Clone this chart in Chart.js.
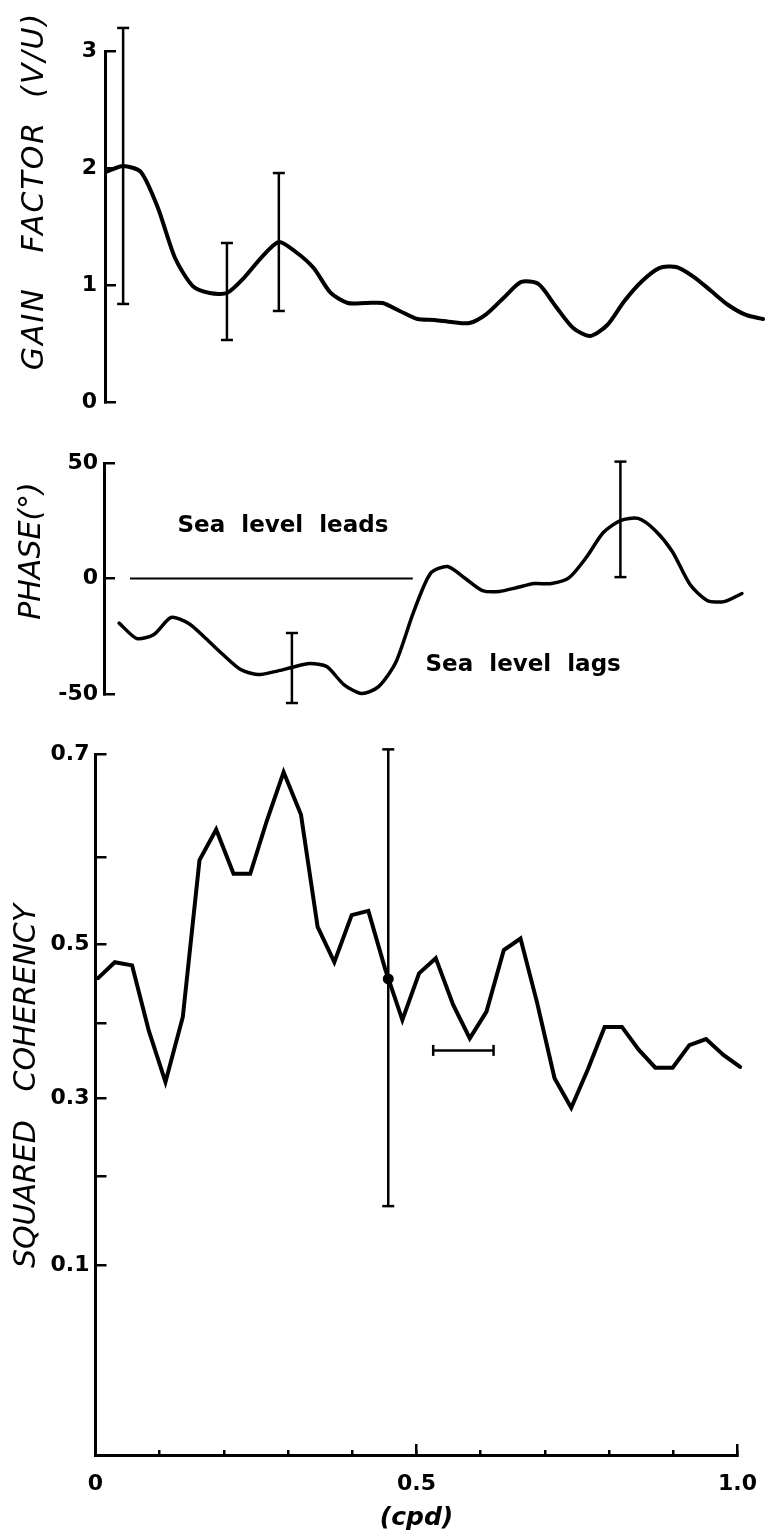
<!DOCTYPE html>
<html>
<head>
<meta charset="utf-8">
<script src="https://cdn.jsdelivr.net/npm/chart.js@4.4.1/dist/chart.umd.min.js"></script>
<style>
html,body{margin:0;padding:0;background:#fff;}
#wrap{position:relative;width:778px;height:1540px;overflow:hidden;}
#wrap canvas{position:absolute;left:0;top:0;}
</style>
</head>
<body>
<div id="wrap">
<canvas id="gainChart" width="778" height="1540"></canvas>
<canvas id="phaseChart" width="778" height="1540"></canvas>
<canvas id="cohChart" width="778" height="1540"></canvas>
</div>
<script>
// ---------------- data ----------------
const FREQ_CPD = [0.004,0.030,0.057,0.083,0.109,0.136,0.162,0.188,0.215,0.241,0.267,0.293,0.320,0.346,0.372,0.399,0.425,0.451,0.478,0.504,0.530,0.557,0.583,0.609,0.636,0.662,0.688,0.715,0.741,0.767,0.793,0.820,0.846,0.872,0.899,0.925,0.951,0.978,1.004];

const GAIN = [1.966,2.017,1.966,1.658,1.231,0.991,0.932,0.932,1.068,1.239,1.368,1.282,1.145,0.932,0.846,0.846,0.846,0.778,0.709,0.701,0.684,0.675,0.752,0.889,1.026,1.009,0.821,0.632,0.564,0.658,0.863,1.034,1.145,1.154,1.068,0.949,0.829,0.744,0.709];

const PHASE_DEG = [null,-19.3,-26.0,-24.2,-16.9,-19.5,-26.0,-32.9,-39.4,-41.6,-40.3,-38.5,-36.8,-38.1,-45.9,-49.8,-46.8,-36.4,-14.7,2.2,5.2,0.0,-5.2,-5.6,-3.9,-2.2,-2.2,0.4,9.1,19.9,25.1,26.0,20.8,11.7,-2.6,-9.5,-10.0,-6.5,null];

const COHERENCY = [0.458,0.478,0.474,0.390,0.322,0.408,0.597,0.629,0.582,0.582,0.638,0.684,0.644,0.521,0.478,0.535,0.540,0.470,0.404,0.464,0.483,0.424,0.380,0.415,0.493,0.507,0.426,0.327,0.288,0.339,0.395,0.395,0.365,0.341,0.341,0.371,0.379,0.358,0.342];

// error bars
const GAIN_ERR_FREQ = [0.030, 0.188, 0.267];
const GAIN_ERR_LOW  = [0.838, 0.530, 0.778];
const GAIN_ERR_HIGH = [3.197, 1.359, 1.957];

const PHASE_ERR_FREQ = [0.293, 0.793];
const PHASE_ERR_LOW  = [-53.9, 0.6];
const PHASE_ERR_HIGH = [-23.6, 50.6];

const COH_ERR_FREQ = [0.456];
const COH_ERR_LOW  = [0.164];
const COH_ERR_HIGH = [0.704];
const COH_ERR_POINT = [0.457];

// bandwidth bar
const BANDWIDTH_FREQ = [0.526, 0.620];
const BANDWIDTH_LEVEL = [0.364, 0.364];

// phase zero reference line
const ZERO_REF_FREQ = [0.0466, 0.477];
const ZERO_REF_PHASE = [0, 0];

// ticks and labels
const FREQ_TICKS = [0,0.1,0.2,0.3,0.4,0.5,0.6,0.7,0.8,0.9,1.0];
const FREQ_MAJOR_TICKS = [0.5, 1.0];
const FREQ_LABEL_VALUES = [0, 0.5, 1.0];
const FREQ_LABEL_TEXT = ['0', '0.5', '1.0'];
const GAIN_TICKS = [0,1,2,3];
const PHASE_TICKS = [-50,0,50];
const COH_TICKS = [0,0.1,0.2,0.3,0.4,0.5,0.6,0.7];
const COH_LABEL_VALUES = [0.1,0.3,0.5,0.7];

// texts
const GAIN_TITLE = 'GAIN   FACTOR  (V/U)';
const PHASE_TITLE = 'PHASE(°)';
const COH_TITLE = 'SQUARED   COHERENCY';
const X_TITLE = '(cpd)';
const LEADS_TEXT = 'Sea  level  leads';
const LAGS_TEXT = 'Sea  level  lags';
const LEADS_AT = [0.2794, 22.5];
const LAGS_AT = [0.645, -37.4];

// ---------------- chart setup ----------------
const BLACK = '#000';
const FAMILY = "'DejaVu Sans', 'Liberation Sans', sans-serif";
Chart.defaults.font.family = FAMILY;
Chart.defaults.color = BLACK;
Chart.defaults.plugins.legend.display = false;
Chart.defaults.plugins.tooltip.enabled = false;

const near = (a, b) => Math.abs(a - b) < 1e-6;

// Coherency axis: spacing proportional to atanh(sqrt(c))
const zOf = c => Math.atanh(Math.sqrt(Math.max(c, 0)));
class CoherencyScale extends Chart.LinearScale {
  getPixelForValue(value) {
    if (value === null || value === undefined || isNaN(value)) return NaN;
    const z0 = zOf(this.min), z1 = zOf(this.max);
    return this.getPixelForDecimal((zOf(value) - z0) / (z1 - z0));
  }
  getValueForPixel(pixel) {
    const z0 = zOf(this.min), z1 = zOf(this.max);
    const t = Math.tanh(z0 + this.getDecimalForPixel(pixel) * (z1 - z0));
    return t * t;
  }
}
CoherencyScale.id = 'coherency';
CoherencyScale.defaults = Chart.LinearScale.defaults;
Chart.register(CoherencyScale);

// let marks (error-bar caps) that stick out of the plot box still be drawn
const wideArea = {
  id: 'wideArea',
  beforeDatasetsDraw(chart) {
    chart.$savedArea = chart.chartArea;
    chart.chartArea = { left: 0, top: 0, right: chart.width, bottom: chart.height, width: chart.width, height: chart.height };
  },
  afterDatasetsDraw(chart) {
    if (chart.$savedArea) chart.chartArea = chart.$savedArea;
  }
};

// text plugin (axis titles and annotations)
const panelText = {
  id: 'panelText',
  afterDraw(chart, args, opts) {
    const ctx = chart.ctx;
    (opts.items || []).forEach(it => {
      ctx.save();
      ctx.font = it.font;
      if (it.spacing) { try { ctx.letterSpacing = it.spacing; } catch (e) {} }
      ctx.fillStyle = BLACK;
      ctx.textAlign = 'center';
      ctx.textBaseline = 'middle';
      let x, y;
      if (it.data) {
        x = chart.scales.x.getPixelForValue(it.data[0]);
        y = chart.scales.y.getPixelForValue(it.data[1]);
      } else { x = it.px[0]; y = it.px[1]; }
      ctx.translate(x, y);
      if (it.rotate) ctx.rotate(it.rotate * Math.PI / 180);
      ctx.fillText(it.text, 0, 0);
      ctx.restore();
    });
  }
};

const TICK_FONT = {family: FAMILY, size: 22, weight: 'bold'};
const TITLE_FONT = "italic 30px 'DejaVu Sans'";
const NOTE_FONT = "bold 23px 'DejaVu Sans'";

function pts(xs, ys) {
  const out = [];
  xs.forEach((x, i) => { if (ys[i] !== null && ys[i] !== undefined) out.push({x: x, y: ys[i]}); });
  return out;
}
function curve(xs, ys, width, tension) {
  return { data: pts(xs, ys), showLine: true, borderColor: BLACK, borderWidth: width,
    pointRadius: 0, tension: tension, borderJoinStyle: 'round', borderCapStyle: 'round', clip: false };
}
function errBar(f, lo, hi) {
  return { data: [{x: f, y: lo}, {x: f, y: hi}], showLine: true, borderColor: BLACK, borderWidth: 2.5,
    pointStyle: 'line', pointRadius: 6, pointBorderColor: BLACK, pointBorderWidth: 2.5, clip: false };
}
function yAxis(o) {
  return {
    type: o.type || 'linear', position: 'left', min: o.min, max: o.max,
    afterBuildTicks: s => { s.ticks = o.ticks.map(v => ({value: v})); },
    ticks: { autoSkip: false, padding: o.pad, font: TICK_FONT, color: BLACK, callback: o.label },
    grid: { drawOnChartArea: false, drawTicks: true, tickLength: -11, tickWidth: 2.5, tickColor: BLACK, lineWidth: 2.5, color: BLACK },
    border: { display: true, width: 3, color: BLACK },
    afterFit: s => { s.width = o.width; }
  };
}
const common = { responsive: false, animation: false, devicePixelRatio: 1, events: [] };

// ---- Top: gain factor ----
new Chart(document.getElementById('gainChart'), {
  type: 'scatter',
  data: { datasets: [
    curve(FREQ_CPD, GAIN, 4, 0.25),
    ...GAIN_ERR_FREQ.map((f, i) => errBar(f, GAIN_ERR_LOW[i], GAIN_ERR_HIGH[i]))
  ]},
  options: Object.assign({}, common, {
    layout: { padding: { left: 0, top: 51, right: 778 - 760.4, bottom: 1540 - 402 } },
    scales: {
      x: { type: 'linear', display: false, min: 0.0024, max: 1.0 },
      y: yAxis({ min: 0, max: 3, ticks: GAIN_TICKS, width: 105, pad: 19, label: v => String(v) })
    },
    plugins: { panelText: { items: [ { text: GAIN_TITLE, px: [35, 191], rotate: -90, font: TITLE_FONT, spacing: '2px' } ] } }
  }),
  plugins: [wideArea, panelText]
});

// ---- Middle: phase ----
new Chart(document.getElementById('phaseChart'), {
  type: 'scatter',
  data: { datasets: [
    curve(FREQ_CPD, PHASE_DEG, 3.5, 0.25),
    Object.assign(curve(ZERO_REF_FREQ, ZERO_REF_PHASE, 2, 0), { borderCapStyle: 'butt' }),
    ...PHASE_ERR_FREQ.map((f, i) => errBar(f, PHASE_ERR_LOW[i], PHASE_ERR_HIGH[i]))
  ]},
  options: Object.assign({}, common, {
    layout: { padding: { left: 0, top: 463, right: 778 - 756.4, bottom: 1540 - 694 } },
    scales: {
      x: { type: 'linear', display: false, min: 0.007, max: 1.0 },
      y: yAxis({ min: -50, max: 50, ticks: PHASE_TICKS, width: 104, pad: 17, label: v => String(v) })
    },
    plugins: { panelText: { items: [
      { text: PHASE_TITLE, px: [32, 551], rotate: -90, font: TITLE_FONT },
      { text: LEADS_TEXT, data: LEADS_AT, font: NOTE_FONT },
      { text: LAGS_TEXT, data: LAGS_AT, font: NOTE_FONT }
    ] } }
  }),
  plugins: [wideArea, panelText]
});

// ---- Bottom: squared coherency ----
new Chart(document.getElementById('cohChart'), {
  type: 'scatter',
  data: { datasets: [
    Object.assign(curve(FREQ_CPD, COHERENCY, 4, 0), { borderJoinStyle: 'miter' }),
    errBar(COH_ERR_FREQ[0], COH_ERR_LOW[0], COH_ERR_HIGH[0]),
    { data: pts(COH_ERR_FREQ, COH_ERR_POINT), showLine: false, pointStyle: 'circle', pointRadius: 5.5,
      pointBackgroundColor: BLACK, pointBorderColor: BLACK, pointBorderWidth: 0, clip: false },
    { data: pts(BANDWIDTH_FREQ, BANDWIDTH_LEVEL), showLine: true, borderColor: BLACK, borderWidth: 2.5,
      pointStyle: 'line', pointRotation: 90, pointRadius: 5.5, pointBorderColor: BLACK, pointBorderWidth: 2.5, clip: false }
  ]},
  options: Object.assign({}, common, {
    layout: { padding: { left: 0, top: 754, right: 778 - 752.5, bottom: 0 } },
    scales: {
      x: {
        type: 'linear', position: 'bottom', min: 0, max: 1.0, weight: 1,
        afterBuildTicks: s => { s.ticks = FREQ_TICKS.map(v => ({value: v})); },
        ticks: { autoSkip: false, maxRotation: 0, padding: 21, font: TICK_FONT, color: BLACK,
          callback: v => { const i = FREQ_LABEL_VALUES.findIndex(t => near(t, v)); return i < 0 ? '' : FREQ_LABEL_TEXT[i]; } },
        grid: { drawOnChartArea: false, drawTicks: true, tickLength: -5, tickWidth: 2.5, tickColor: BLACK, lineWidth: 2.5, color: BLACK },
        border: { display: true, width: 3, color: BLACK },
        title: { display: true, text: X_TITLE, color: BLACK, font: { family: FAMILY, size: 25, style: 'italic', weight: 'bold' }, padding: { top: 0, bottom: 7 } },
        afterFit: s => { s.height = 85; }
      },
      xMajor: {
        type: 'linear', position: 'bottom', min: 0, max: 1.0, weight: 0,
        afterBuildTicks: s => { s.ticks = FREQ_MAJOR_TICKS.map(v => ({value: v})); },
        ticks: { display: false },
        grid: { drawOnChartArea: false, drawTicks: true, tickLength: -11, tickWidth: 2.5, tickColor: BLACK, lineWidth: 2.5, color: BLACK },
        border: { display: false },
        afterFit: s => { s.height = 0; }
      },
      y: yAxis({ type: 'coherency', min: 0, max: 0.7, ticks: COH_TICKS, width: 95.5, pad: 17,
        label: v => COH_LABEL_VALUES.some(t => near(t, v)) ? v.toFixed(1) : '' })
    },
    plugins: { panelText: { items: [ { text: COH_TITLE, px: [27, 1086], rotate: -90, font: TITLE_FONT } ] } }
  }),
  plugins: [wideArea, panelText]
});
</script>
</body>
</html>
